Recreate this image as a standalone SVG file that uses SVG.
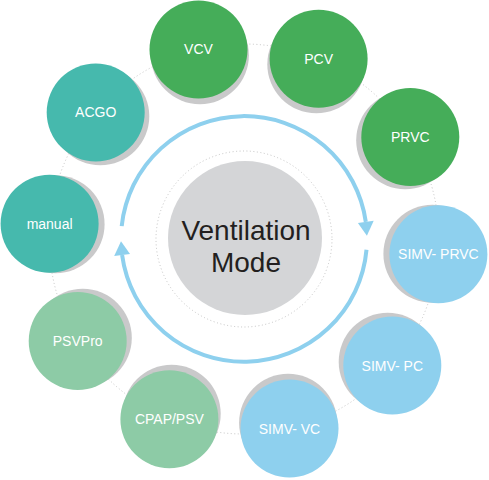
<svg xmlns="http://www.w3.org/2000/svg" width="489" height="480" viewBox="0 0 489 480">
<style>
.sh{fill:#c9c9ca}
.g{fill:#45ad59}
.t{fill:#46b9ad}
.s{fill:#8dcba6}
.b{fill:#8ed0ee}
.lbl{font-family:"Liberation Sans","DejaVu Sans",sans-serif;font-size:14px;fill:#ffffff;text-anchor:middle}
.ctr{font-family:"Liberation Sans","DejaVu Sans",sans-serif;font-size:28px;fill:#231f20;text-anchor:middle}
.dot{fill:none;stroke:#b5b5b5;stroke-width:0.8;stroke-dasharray:1 2.5}
.arc{fill:none;stroke:#8ed0ee;stroke-width:4}
.head{fill:#8ed0ee}
</style>
<rect width="489" height="480" fill="#ffffff"/>
<g id="connectors">
<circle class="dot" cx="244" cy="239" r="195"/>
<circle class="dot" cx="244" cy="239" r="88"/>
<path class="arc" d="M121.7,226.1 A123,123 0 0 1 365.8,221.9"/>
<polygon class="head" points="373.7,220.8 357.9,223.0 366.9,235.7"/>
<path class="arc" d="M366.5,249.7 A123,123 0 0 1 122.1,255.1"/>
<polygon class="head" points="114.2,256.1 130.0,254.1 121.0,241.2"/>
</g>
<g id="center">
<circle cx="245" cy="238" r="77" fill="#d4d5d7"/>
<text class="ctr" x="246" y="240">Ventilation</text>
<text class="ctr" x="246" y="272">Mode</text>
</g>
<g id="n-vcv">
<circle class="sh" cx="199.9" cy="55.2" r="49"/>
<circle class="g" cx="198.5" cy="49.4" r="49"/>
<text class="lbl" x="198.5" y="54.4">VCV</text>
</g>
<g id="n-pcv">
<circle class="sh" cx="316.3" cy="64.3" r="49"/>
<circle class="g" cx="318.6" cy="58.8" r="49"/>
<text class="lbl" x="318.6" y="63.8">PCV</text>
</g>
<g id="n-prvc">
<circle class="sh" cx="405.2" cy="140.2" r="49"/>
<circle class="g" cx="410.3" cy="137.1" r="49"/>
<text class="lbl" x="410.3" y="142.1">PRVC</text>
</g>
<g id="n-simv-prvc">
<circle class="sh" cx="432.4" cy="253.8" r="49"/>
<circle class="b" cx="438.4" cy="254.3" r="49"/>
<text class="lbl" x="438.4" y="259.3">SIMV- PRVC</text>
</g>
<g id="n-simv-pc">
<circle class="sh" cx="387.7" cy="361.7" r="49"/>
<circle class="b" cx="392.3" cy="365.6" r="49"/>
<text class="lbl" x="392.3" y="370.6">SIMV- PC</text>
</g>
<g id="n-simv-vc">
<circle class="sh" cx="288.1" cy="422.8" r="49"/>
<circle class="b" cx="289.5" cy="428.6" r="49"/>
<text class="lbl" x="289.5" y="433.6">SIMV- VC</text>
</g>
<g id="n-cpap-psv">
<circle class="sh" cx="171.7" cy="413.7" r="49"/>
<circle class="s" cx="169.4" cy="419.2" r="49"/>
<text class="lbl" x="169.4" y="424.2">CPAP/PSV</text>
</g>
<g id="n-psvpro">
<circle class="sh" cx="82.8" cy="337.8" r="49"/>
<circle class="s" cx="77.7" cy="340.9" r="49"/>
<text class="lbl" x="77.7" y="345.9">PSVPro</text>
</g>
<g id="n-manual">
<circle class="sh" cx="55.6" cy="224.2" r="49"/>
<circle class="t" cx="49.6" cy="223.7" r="49"/>
<text class="lbl" x="49.6" y="228.7">manual</text>
</g>
<g id="n-acgo">
<circle class="sh" cx="100.3" cy="116.3" r="49"/>
<circle class="t" cx="95.7" cy="112.4" r="49"/>
<text class="lbl" x="95.7" y="117.4">ACGO</text>
</g>
</svg>
